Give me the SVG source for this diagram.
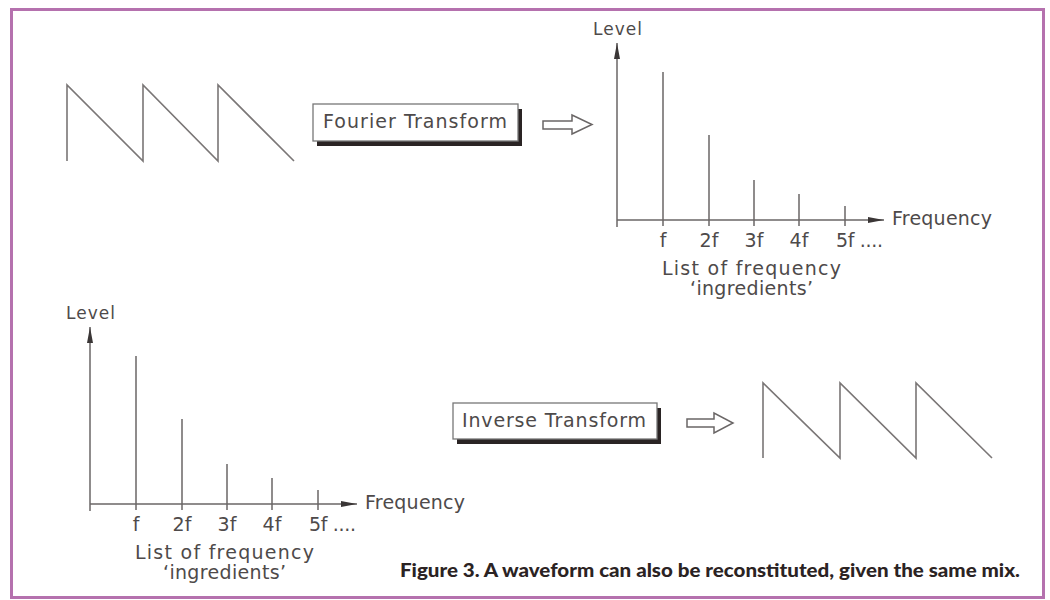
<svg xmlns="http://www.w3.org/2000/svg" width="1050" height="600" viewBox="0 0 1050 600">
<defs>
<style>
.ln{stroke:#6a6666;stroke-width:1.5;fill:none}
.wave{stroke:#7a7676;stroke-width:1.6;fill:none;stroke-linejoin:miter}
.t{font-family:"DejaVu Sans","Liberation Sans",sans-serif;fill:#4e4a4a;font-size:19px}
.lv{font-size:17px}
.box{fill:#fff;stroke:#777;stroke-width:1.3}
.shadow{fill:#2a2424}
.harrow{fill:#fff;stroke:#6a6666;stroke-width:1.5;stroke-linejoin:miter}
.cap{font-family:Lato,"Liberation Sans",sans-serif;font-weight:900;font-size:18px;fill:#2b2323}
</style>
<marker id="ah" markerUnits="userSpaceOnUse" markerWidth="17" markerHeight="7" refX="16" refY="3" orient="auto">
<path d="M0,0 L16,3 L0,6 z" fill="#3a3636"/>
</marker>
<g id="spectrum">
<line class="ln" x1="617" y1="227" x2="617" y2="43" marker-end="url(#ah)"/>
<line class="ln" x1="617" y1="220" x2="884" y2="220" marker-end="url(#ah)"/>
<line class="ln" x1="663" y1="72" x2="663" y2="226"/>
<line class="ln" x1="709" y1="135" x2="709" y2="226"/>
<line class="ln" x1="754" y1="180" x2="754" y2="226"/>
<line class="ln" x1="799" y1="194" x2="799" y2="226"/>
<line class="ln" x1="845" y1="206" x2="845" y2="226"/>
<text class="t lv" x="593" y="35" textLength="49">Level</text>
<text class="t" x="892" y="225" textLength="100">Frequency</text>
<text class="t" x="663" y="247" text-anchor="middle">f</text>
<text class="t" x="709" y="247" text-anchor="middle">2f</text>
<text class="t" x="754" y="247" text-anchor="middle">3f</text>
<text class="t" x="799" y="247" text-anchor="middle">4f</text>
<text class="t" x="836" y="247" textLength="47">5f ....</text>
<text class="t" x="662" y="275" textLength="179" lengthAdjust="spacing">List of frequency</text>
<text class="t" x="690" y="295" textLength="123" lengthAdjust="spacing">‘ingredients’</text>
</g>
</defs>

<rect id="frame" x="11.5" y="9.5" width="1032" height="588" fill="#fff" stroke="#b571ae" stroke-width="3"/>

<g id="waveform-top">
<path class="wave" d="M67,161 L67,85 L143,161 L143,85 L218,161 L218,85 L294,161"/>
</g>

<g id="fourier-box">
<rect class="shadow" x="317" y="109" width="205" height="37"/>
<rect class="box" x="313" y="104" width="205" height="37"/>
<text class="t" x="323" y="128" font-size="19" textLength="184" lengthAdjust="spacing">Fourier Transform</text>
</g>

<g id="spectrum-top">
<use href="#spectrum"/>
</g>

<g id="spectrum-bottom">
<use href="#spectrum" transform="translate(-527,284)"/>
</g>

<g id="inverse-box">
<rect class="shadow" x="457" y="408" width="204" height="36"/>
<rect class="box" x="453" y="403" width="204" height="36"/>
<text class="t" x="462" y="427" font-size="19" textLength="184" lengthAdjust="spacing">Inverse Transform</text>
</g>

<g id="waveform-bottom">
<path class="wave" d="M763,458 L763,383 L840,458 L840,383 L916,458 L916,383 L992,458"/>
</g>

<g id="connectors">
<polygon class="harrow" points="543,121 572,121 572,115 592,124.5 572,134 572,129 543,129"/>
<polygon class="harrow" points="687,419 714,419 714,413 733,423 714,433 714,427 687,427"/>
</g>

<g id="caption">
<text class="cap" x="400" y="577" textLength="620" lengthAdjust="spacingAndGlyphs">Figure 3. A waveform can also be reconstituted, given the same mix.</text>
</g>
</svg>
